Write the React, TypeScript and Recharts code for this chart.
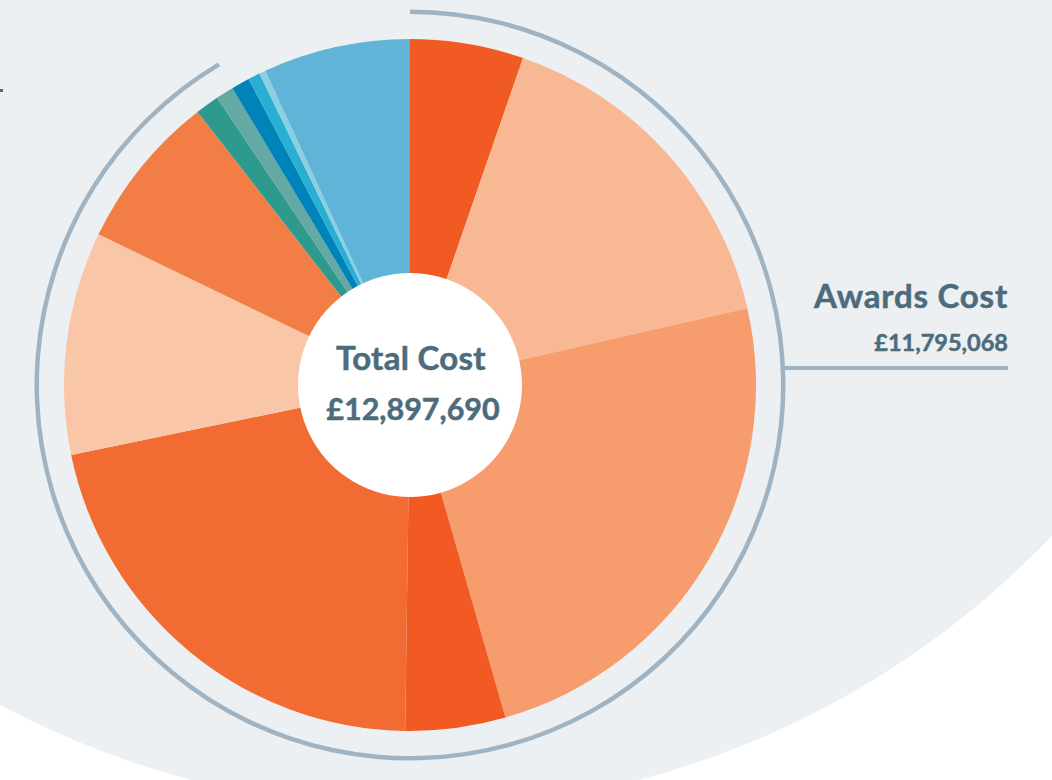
import { PieChart, Pie, Cell } from "recharts"

// slice values (£) read clockwise from 12 o'clock
const sliceNames = [
  "Award A", "Award B", "Award C", "Award D", "Award E", "Award F", "Award G",
  "Award H", "Award I", "Other A", "Other B", "Other C", "Other D",
]
const sliceValues = [
  683000, 2081000, 3110000, 602000, 2777000, 1343000, 942000,
  143000, 107000, 111000, 72000, 39000, 885000,
]
const sliceColors = [
  "#F15A22", "#F9B894", "#F79C6D", "#F15A22", "#F26B32", "#FAC6A8", "#F37E45",
  "#2E9A8E", "#64A9A3", "#0083B9", "#29AED4", "#8CCFE4", "#60B4D8",
]

const totalCost = 12897690
const awardsCost = 11795068

const fmt = (v: number) => "£" + v.toLocaleString("en-GB")

export default function App() {
  const slices = sliceNames.map((name, i) => ({ name, value: sliceValues[i] }))
  const ring = [
    { name: "Awards Cost", value: awardsCost },
    { name: "Rest", value: totalCost - awardsCost },
  ]
  const textColor = "#4C6C7C"

  return (
    <div style={{ position: "absolute", left: 0, top: 0, width: 1052, height: 780, background: "#fff", overflow: "hidden" }}>
      <PieChart width={1052} height={780} margin={{ top: 0, right: 0, bottom: 0, left: 0 }}>
        {/* big pale backdrop */}
        <Pie
          data={[{ name: "bg", value: 1 }]}
          dataKey="value"
          cx={415}
          cy={-70}
          outerRadius={879}
          fill="#ECF0F3"
          stroke="none"
          isAnimationActive={false}
        />
        {/* awards share ring */}
        <Pie
          data={ring}
          dataKey="value"
          cx={410}
          cy={385}
          innerRadius={371}
          outerRadius={375.5}
          startAngle={90}
          endAngle={-270}
          stroke="none"
          isAnimationActive={false}
        >
          <Cell fill="#9FB3C2" />
          <Cell fill="none" />
        </Pie>
        <Pie
          data={slices}
          dataKey="value"
          cx={410}
          cy={385}
          innerRadius={0}
          outerRadius={346}
          startAngle={90}
          endAngle={-270}
          stroke="none"
          isAnimationActive={false}
        >
          {slices.map((s, i) => (
            <Cell key={s.name} fill={sliceColors[i]} />
          ))}
        </Pie>
        <Pie
          data={[{ name: "hole", value: 1 }]}
          dataKey="value"
          cx={410}
          cy={385}
          outerRadius={112}
          fill="#FFFFFF"
          stroke="none"
          isAnimationActive={false}
        />
      </PieChart>
      <svg width={1052} height={780} style={{ position: "absolute", left: 0, top: 0, pointerEvents: "none" }}>
        <g fontFamily="Lato, sans-serif" fontWeight="bold" fill={textColor} stroke={textColor} strokeWidth={0.5}>
          <text x={411} y={370} textAnchor="middle" fontSize={33} letterSpacing={0.3}>Total Cost</text>
          <text x={413} y={420} textAnchor="middle" fontSize={30.5}>{fmt(totalCost)}</text>
          <text x={1008} y={308} textAnchor="end" fontSize={33} letterSpacing={0.8}>Awards Cost</text>
          <text x={1008} y={351} textAnchor="end" fontSize={23.5}>{fmt(awardsCost)}</text>
        </g>
        <line x1={785} y1={368} x2={1008} y2={368} stroke="#9FB3C2" strokeWidth={4} />
        <rect x={0} y={89} width={3} height={3} fill={textColor} />
      </svg>
    </div>
  )
}
